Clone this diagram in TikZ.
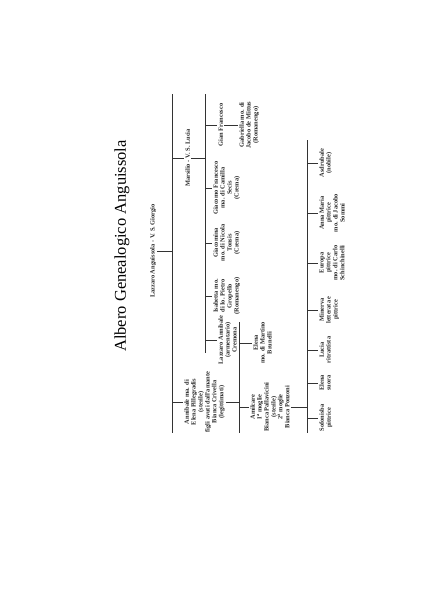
\documentclass[tikz,border=0pt]{standalone}
\usepackage{fontspec}
\setmainfont{Liberation Serif}
\usetikzlibrary{positioning}

\tikzset{
  pers/.style={rotate=90, align=center, anchor=north, inner sep=1.2pt,
    font=\fontsize{6.4}{6.9}\selectfont\bfseries, text=black!85},
  barra/.style={line width=0.7pt, draw=black!80},
}

\begin{document}
\begin{tikzpicture}[x=1pt,y=-1pt]
\useasboundingbox (0,0) rectangle (427,602);

% titolo
\node[rotate=90, font=\fontsize{16.5}{18}\selectfont] (titolo) at (122,246) {Albero Genealogico Anguissola};
\node[pers, anchor=center] (lazzaro) at (153,251) {Lazzaro Anguissola - V. S. Giorgio};

% sbarre
\coordinate (b1a) at (172,94);  \coordinate (b1b) at (172,433);
\coordinate (b2a) at (205,94);  \coordinate (b2b) at (205,353);
\coordinate (b3a) at (239,322); \coordinate (b3b) at (239,433);
\coordinate (b4a) at (307,140); \coordinate (b4b) at (307,433);
\draw[barra] (b1a) -- (b1b);
\draw[barra] (b2a) -- (b2b);
\draw[barra] (b3a) -- (b3b);
\draw[barra] (b4a) -- (b4b);
\draw[barra] (lazzaro.south) -- (lazzaro.south -| b1a);

% figli di Lazzaro
\node[pers] (marsilio) at (184,158) {Marsilio - V. S. Lucia};
\node[pers] (annibale) at (183,402) {Annibale ma. di\\Elena Pillegradis\\(sterile)\\figli avuti dall'amante\\Bianca Crivella\\(legittimati)};
\draw[barra] (b1a |- marsilio.north) -- (marsilio.north);
\draw[barra] (b1a |- annibale.north) -- (annibale.north);

% figli di Marsilio
\draw[barra] (marsilio.south) -- (marsilio.south -| b2a);
\node[pers] (gianf) at (217,125) {Gian Francesco};
\node[pers] (gabriella) at (238,125) {Gabriella mo. di\\Jacobo de Mittus\\(Romanengo)};
\node[pers] (giacomof) at (212,188) {Giacomo Francesco\\ma. di Camilla\\Secis\\(Crema)};
\node[pers] (giacomina) at (212,243) {Giacomina\\mo. di Nicola\\Tonsis\\(Crema)};
\node[pers] (isabetta) at (212,296) {Isabetta mo.\\di Io. Pietro\\Gropello\\(Romanengo)};
\node[pers] (lazzaroa) at (217,340) {Lazzaro Annibale\\(armentario)\\Cremona};
\foreach \n in {gianf,giacomof,giacomina,isabetta,lazzaroa}
  \draw[barra] (b2a |- \n.north) -- (\n.north);
\draw[barra] (gianf.south) -- (gianf.south -| gabriella.north);

% figli di Annibale
\draw[barra] (annibale.south) -- (annibale.south -| b3a);
\node[pers] (amilcare) at (249,407) {Amilcare\\I\textsuperscript{a} moglie\\Bianca Pallavicini\\(sterile)\\2\textsuperscript{a} moglie\\Bianca Ponzoni};
\node[pers] (elena) at (252,343) {Elena\\mo. di Martino\\Brunelli};
\foreach \n in {amilcare,elena}
  \draw[barra] (b3a |- \n.north) -- (\n.north);

% figli di Amilcare
\draw[barra] (amilcare.south) -- (amilcare.south -| b4a);
\node[pers] (sofonisba) at (318,418) {Sofonisba\\pittrice};
\node[pers] (elenas) at (318,383) {Elena\\suora};
\node[pers] (lucia) at (318,350) {Lucia\\ritrattista};
\node[pers] (minerva) at (318,310) {Minerva\\letterata e\\pittrice};
\node[pers] (europa) at (318,263) {Europa\\pittrice\\mo. di Carlo\\Schinchinelli};
\node[pers] (annamaria) at (318,213) {Anna Maria\\pittrice\\mo. di Jacobo\\Sommi};
\node[pers] (asdrubale) at (318,163) {Asdrubale\\(nobile)};
\foreach \n in {sofonisba,elenas,lucia,minerva,europa,annamaria,asdrubale}
  \draw[barra] (b4a |- \n.north) -- (\n.north);
\end{tikzpicture}
\end{document}
